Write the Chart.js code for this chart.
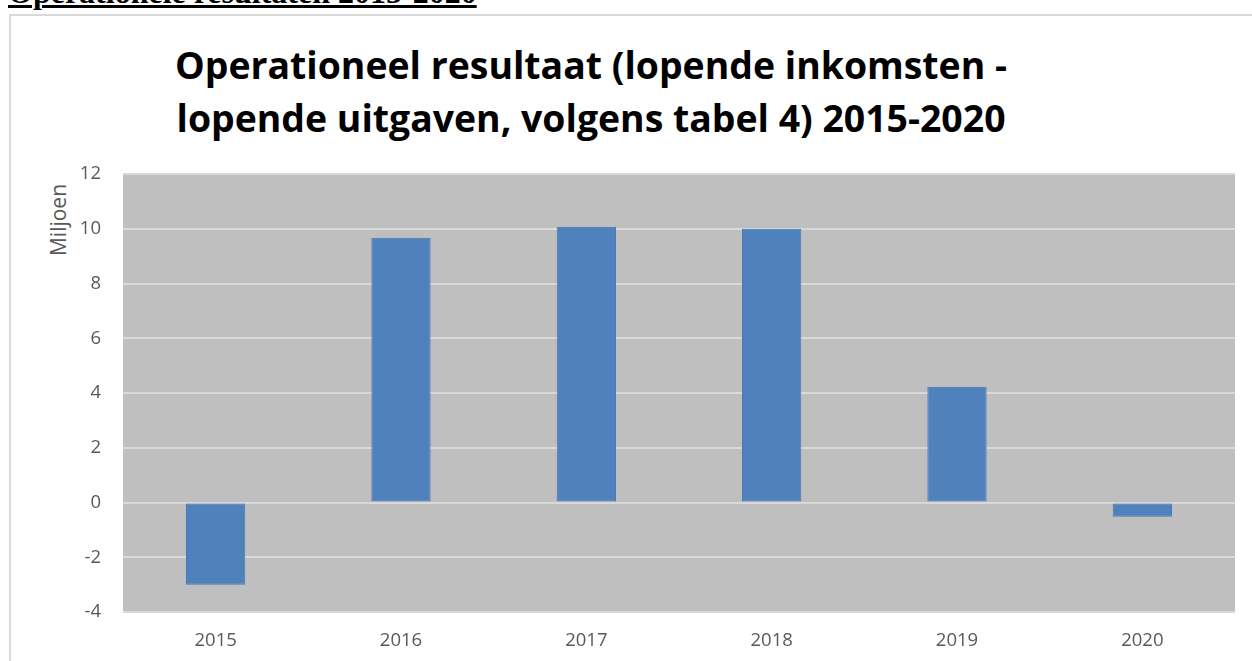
<!DOCTYPE html>
<html>
<head>
<meta charset="utf-8">
<script src="https://cdn.jsdelivr.net/npm/chart.js@4.4.0/dist/chart.umd.min.js"></script>
<style>
  html, body { margin: 0; padding: 0; background: #ffffff; overflow: hidden; }
  #wrap { position: relative; width: 1252px; height: 661px; }
  #kop {
    position: absolute; left: 8px; top: -24px;
    font: bold 32px "Liberation Serif", "Times New Roman", serif;
    color: #000; line-height: 32px; white-space: nowrap;
    text-decoration: underline; text-decoration-thickness: 3px; text-underline-offset: 2px;
  }
  #kader {
    position: absolute; left: 9px; top: 14px; width: 1260px; height: 700px;
    border-left: 2px solid #d9d9d9; border-top: 2px solid #d9d9d9;
  }
  #titel {
    position: absolute; left: 9px; width: 1164px; top: 38px;
    text-align: center; font: bold 37.4px "Open Sans", sans-serif;
    line-height: 53px; color: #000;
  }
  #yTitel {
    position: absolute; left: 58px; top: 220px;
    transform: translate(-50%, -50%) rotate(-90deg);
    font: 21px "Open Sans", sans-serif; color: #595959; white-space: nowrap;
  }
  canvas { position: absolute; left: 0; top: 0; }
</style>
</head>
<body>
<div id="wrap">
  <div id="kop">Operationele resultaten 2015-2020</div>
  <div id="kader"></div>
  <div id="titel">Operationeel resultaat (lopende inkomsten -<br>lopende uitgaven, volgens tabel 4) 2015-2020</div>
  <div id="yTitel">Miljoen</div>
  <canvas id="grafiek" width="1252" height="661"></canvas>
</div>
<script>
// ---------- data ----------
const jaren = ["2015", "2016", "2017", "2018", "2019", "2020"];
const resultaat = [-3.0, 9.67, 10.07, 10.0, 4.23, -0.52];
const yMin = -4;
const yMax = 12;
const yStap = 2;

// ---------- grijze achtergrond van het plotvlak ----------
const plotAchtergrond = {
  id: "plotAchtergrond",
  beforeDraw(chart) {
    const { ctx, chartArea: a } = chart;
    ctx.save();
    ctx.fillStyle = "#bfbfbf";
    ctx.fillRect(a.left, a.top, a.right - a.left, a.bottom - a.top);
    ctx.restore();
  },
};

const ctx = document.getElementById("grafiek").getContext("2d");
new Chart(ctx, {
  type: "bar",
  data: {
    labels: jaren,
    datasets: [
      {
        label: "Operationeel resultaat",
        data: resultaat,
        backgroundColor: "#4f81bd",
        borderColor: "#4a78b0",
        borderWidth: 1,
        borderSkipped: false,
        barPercentage: 0.32,
        categoryPercentage: 1,
      },
    ],
  },
  options: {
    responsive: false,
    animation: false,
    layout: { padding: { left: 20, right: 17, top: 174, bottom: 0 } },
    plugins: {
      legend: { display: false },
      tooltip: { enabled: false },
    },
    scales: {
      x: {
        grid: { display: false, drawTicks: false },
        border: { display: false },
        ticks: { color: "#595959", font: { family: "Open Sans", size: 18.5 }, padding: 18 },
        afterFit: (s) => { s.height = 49; },
      },
      y: {
        min: yMin,
        max: yMax,
        grid: { color: "#d9d9d9", lineWidth: 2, drawTicks: false },
        border: { display: false },
        ticks: {
          stepSize: yStap,
          color: "#595959",
          font: { family: "Open Sans", size: 18.5 },
          padding: 22,
        },
        afterFit: (s) => { s.width = 103; },
      },
    },
  },
  plugins: [plotAchtergrond],
});
</script>
</body>
</html>
